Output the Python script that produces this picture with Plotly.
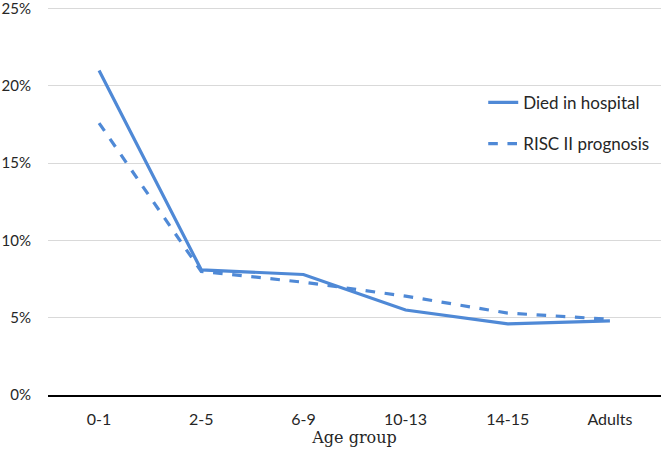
import plotly.graph_objects as go

categories = ["0-1", "2-5", "6-9", "10-13", "14-15", "Adults"]
died_in_hospital = [21.0, 8.1, 7.8, 5.5, 4.6, 4.8]
risc_ii_prognosis = [17.6, 8.0, 7.3, 6.4, 5.3, 4.9]
y_ticks = [0, 5, 10, 15, 20, 25]
y_tick_labels = ["0%", "5%", "10%", "15%", "20%", "25%"]

color = "#4f89d6"

fig = go.Figure()
fig.add_trace(go.Scatter(x=categories, y=died_in_hospital, mode="lines",
                         name="Died in hospital", legendgroup="a",
                         line=dict(color=color, width=3.2)))
fig.add_trace(go.Scatter(x=categories, y=risc_ii_prognosis, mode="lines",
                         name="RISC II prognosis", legendgroup="b",
                         line=dict(color=color, width=3.2, dash="dash")))

fig.update_layout(
    width=661, height=449,
    margin=dict(l=48, r=0, t=1, b=54),
    plot_bgcolor="white", paper_bgcolor="white",
    font=dict(family="Lato, Noto Sans, sans-serif", size=15, color="#262626"),
    showlegend=True,
    legend=dict(x=0.71, y=0.787, xanchor="left", yanchor="top",
                font=dict(size=17, color="#262626"),
                bgcolor="rgba(0,0,0,0)", tracegroupgap=16, itemwidth=30),
    xaxis=dict(
        type="category", range=[-0.5, 5.5],
        showline=True, linecolor="black", linewidth=2,
        showgrid=False, ticks="", ticklabelstandoff=9,
        tickfont=dict(size=16),
        title=dict(text="Age group", standoff=2,
                   font=dict(family="DejaVu Serif, Liberation Serif, serif", size=16, color="#262626")),
    ),
    yaxis=dict(
        range=[0, 25.5], tickvals=y_ticks, ticktext=y_tick_labels,
        showgrid=True, gridcolor="#d9d9d9", gridwidth=1,
        zeroline=False, showline=False, ticks="", ticklabelstandoff=16,
        ticklabeloverflow="allow",
    ),
)

fig.write_html("out.html")
